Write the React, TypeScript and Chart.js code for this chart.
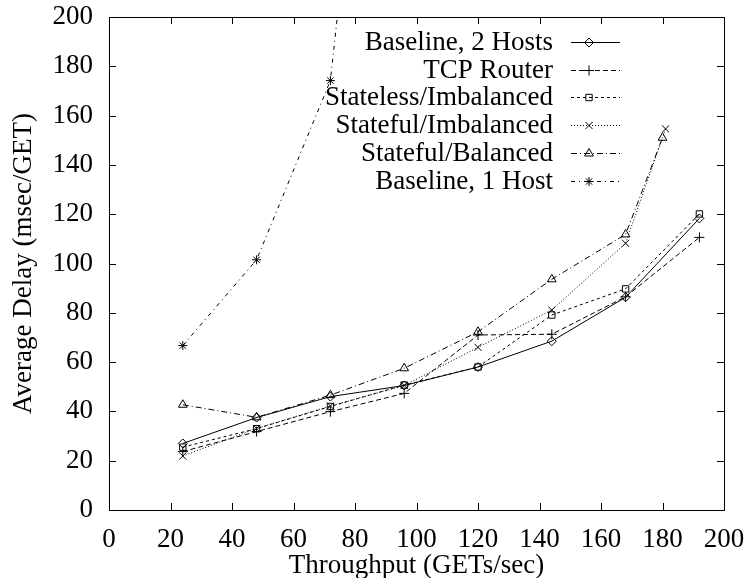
import { useEffect, useRef } from 'react';
import { Chart, registerables } from 'chart.js';
import { drawPoint } from 'chart.js/helpers';

Chart.register(...registerables);

// ---- Data ----
const throughput = [24, 48, 72, 96, 120, 144, 168, 192];
const baseline2Delay = [27, 37.5, 46, 50.5, 58, 68.5, 86.3, 118.3];
const tcpRouterDelay = [23.7, 31.8, 39.9, 47.3, 71, 71.3, 86.5, 110.6];
const statelessImbDelay = [25.5, 33, 42, 50.7, 58, 79.1, 89.7, 120.1];
const statefulImbThroughput = [24, 48, 72, 96, 120, 144, 168, 181];
const statefulImbDelay = [21.9, 33.1, 42.2, 50.5, 66, 81.1, 108.2, 154.6];
const statefulBalThroughput = [24, 48, 72, 96, 120, 144, 168, 180];
const statefulBalDelay = [42.7, 37.6, 46.6, 57.5, 72.3, 93.6, 111.8, 151];
const baseline1Throughput = [24, 48, 72, 96];
const baseline1Delay = [66.7, 101.5, 174.2, 450];

const seriesLabels = [
  'Baseline, 2 Hosts',
  'TCP Router',
  'Stateless/Imbalanced',
  'Stateful/Imbalanced',
  'Stateful/Balanced',
  'Baseline, 1 Host',
];

const xTickValues = [0, 20, 40, 60, 80, 100, 120, 140, 160, 180, 200];
const yTickValues = [0, 20, 40, 60, 80, 100, 120, 140, 160, 180, 200];

const FONT = "'Liberation Serif'";
const FS = 27;

const toPoints = (xs: number[], ys: number[]) => xs.map((x, i) => ({ x, y: ys[i] }));

const framePlugin = {
  id: 'frameTicks',
  afterDraw(chart: any) {
    const { ctx, chartArea: a, scales } = chart;
    const tl = 7;
    ctx.save();
    ctx.strokeStyle = '#000';
    ctx.lineWidth = 1;
    ctx.setLineDash([]);
    ctx.strokeRect(Math.round(a.left) + 0.5, Math.round(a.top) + 0.5, Math.round(a.right - a.left), Math.round(a.bottom - a.top));
    ctx.beginPath();
    xTickValues.forEach((v) => {
      const px = Math.round(scales.x.getPixelForValue(v)) + 0.5;
      ctx.moveTo(px, a.bottom);
      ctx.lineTo(px, a.bottom - tl);
      ctx.moveTo(px, a.top);
      ctx.lineTo(px, a.top + tl);
    });
    yTickValues.forEach((v) => {
      const py = Math.round(scales.y.getPixelForValue(v)) + 0.5;
      ctx.moveTo(a.left, py);
      ctx.lineTo(a.left + tl, py);
      ctx.moveTo(a.right, py);
      ctx.lineTo(a.right - tl, py);
    });
    ctx.stroke();
    ctx.restore();
  },
};

const legendPlugin = {
  id: 'rightLegend',
  afterDatasetsDraw(chart: any) {
    const { ctx, chartArea: a } = chart;
    const textRight = a.left + 444;
    const lineStart = textRight + 18;
    const lineEnd = textRight + 67;
    const markerX = textRight + 36;
    const top = a.top + 25;
    const rowH = 27.7;
    ctx.save();
    ctx.font = `${FS}px ${FONT}`;
    ctx.textAlign = 'right';
    ctx.textBaseline = 'middle';
    chart.data.datasets.forEach((d: any, i: number) => {
      const y = top + i * rowH;
      ctx.fillStyle = '#000';
      ctx.fillText(d.label, textRight, y + 1);
      ctx.strokeStyle = '#000';
      ctx.lineWidth = 1;
      ctx.setLineDash(d.borderDash || []);
      ctx.beginPath();
      ctx.moveTo(lineStart, Math.round(y) + 0.5);
      ctx.lineTo(lineEnd, Math.round(y) + 0.5);
      ctx.stroke();
      ctx.setLineDash([]);
      ctx.fillStyle = 'rgba(0,0,0,0)';
      drawPoint(ctx, { pointStyle: d.pointStyle, rotation: 0, radius: d.pointRadius, borderWidth: 1 } as any, markerX, Math.round(y) + 0.5);
    });
    ctx.restore();
  },
};

export default function App() {
  const ref = useRef<HTMLCanvasElement>(null);

  useEffect(() => {
    if (!ref.current) return;
    const mk = (label: string, data: any[], dash: number[], style: string, r: number) => ({
      label,
      data,
      borderColor: '#000',
      borderWidth: 1,
      borderDash: dash,
      fill: false,
      tension: 0,
      pointStyle: style,
      pointRadius: r,
      pointBorderColor: '#000',
      pointBackgroundColor: 'rgba(0,0,0,0)',
      pointBorderWidth: 1,
    });
    const chart = new Chart(ref.current, {
      type: 'line',
      data: {
        datasets: [
          mk(seriesLabels[0], toPoints(throughput, baseline2Delay), [], 'rectRot', 4.5),
          mk(seriesLabels[1], toPoints(throughput, tcpRouterDelay), [5, 3], 'cross', 5),
          mk(seriesLabels[2], toPoints(throughput, statelessImbDelay), [3, 3], 'rect', 4.5),
          mk(seriesLabels[3], toPoints(statefulImbThroughput, statefulImbDelay), [1, 2], 'crossRot', 5),
          mk(seriesLabels[4], toPoints(statefulBalThroughput, statefulBalDelay), [6, 3, 1, 3], 'triangle', 5),
          mk(seriesLabels[5], toPoints(baseline1Throughput, baseline1Delay), [4, 4, 1, 4], 'star', 4.5),
        ] as any,
      },
      options: {
        responsive: false,
        animation: false,
        devicePixelRatio: 1,
        layout: { padding: { top: 17, right: 22, left: 0, bottom: 0 } },
        plugins: {
          legend: { display: false },
          tooltip: { enabled: false },
        },
        scales: {
          x: {
            type: 'linear',
            min: 0,
            max: 200,
            afterBuildTicks: (s: any) => {
              s.ticks = xTickValues.map((v) => ({ value: v }));
            },
            afterFit: (s: any) => {
              s.height = 68;
              s.paddingLeft = 0;
              s.paddingRight = 0;
              s.paddingTop = 0;
              s.paddingBottom = 0;
            },
            ticks: { font: { family: FONT, size: FS }, color: '#000', padding: 14, maxRotation: 0 },
            grid: { display: false, drawTicks: false },
            border: { display: false },
            title: {
              display: true,
              text: 'Throughput (GETs/sec)',
              font: { family: FONT, size: FS },
              color: '#000',
              padding: { top: 0, bottom: -4 },
            },
          },
          y: {
            type: 'linear',
            min: 0,
            max: 200,
            afterBuildTicks: (s: any) => {
              s.ticks = yTickValues.map((v) => ({ value: v }));
            },
            afterFit: (s: any) => {
              s.width = 109;
              s.paddingLeft = 0;
              s.paddingRight = 0;
              s.paddingTop = 0;
              s.paddingBottom = 0;
            },
            ticks: { font: { family: FONT, size: FS }, color: '#000', padding: 16 },
            grid: { display: false, drawTicks: false },
            border: { display: false },
            title: {
              display: true,
              text: 'Average Delay (msec/GET)',
              font: { family: FONT, size: FS },
              color: '#000',
              padding: { top: 8, bottom: 0 },
            },
          },
        },
      } as any,
      plugins: [framePlugin, legendPlugin],
    });
    const fonts: any = (document as any).fonts;
    if (fonts && fonts.load) {
      fonts.load(`${FS}px ${FONT}`).then(() => chart.update()).catch(() => {});
    }
    return () => chart.destroy();
  }, []);

  return (
    <div style={{ position: 'absolute', left: 0, top: 0, width: 746, height: 578, background: '#fff', fontFamily: FONT }}>
      <canvas ref={ref} width={746} height={578} style={{ width: 746, height: 578 }} />
    </div>
  );
}
